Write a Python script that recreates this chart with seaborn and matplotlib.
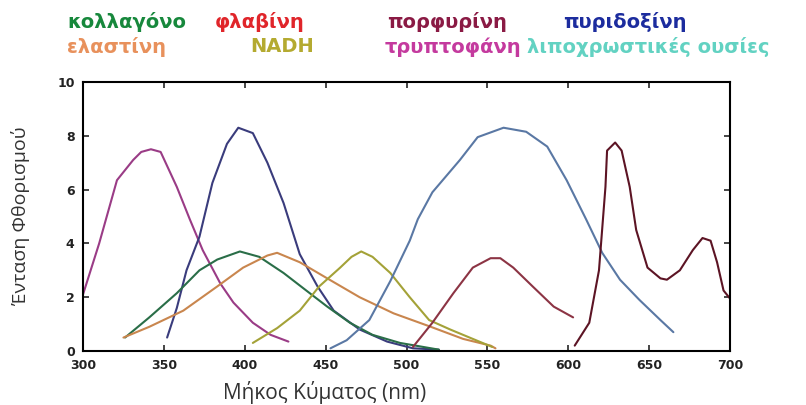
import matplotlib
matplotlib.use("Agg")
import matplotlib.pyplot as plt
import seaborn as sns
import pandas as pd

# ---- data (wavelength nm, intensity) ----
trypt_x = [300, 310, 321, 331, 336, 342, 348, 358, 366, 374, 385, 393, 405, 416, 427]
trypt_y = [2.1, 4.0, 6.35, 7.1, 7.4, 7.5, 7.4, 6.1, 4.9, 3.75, 2.5, 1.8, 1.05, 0.6, 0.35]

pyrid_x = [352, 358, 364, 372, 380, 389, 396, 405, 414, 424, 434, 445, 455, 471, 488, 504, 520]
pyrid_y = [0.5, 1.6, 3.0, 4.25, 6.25, 7.7, 8.3, 8.1, 7.0, 5.5, 3.6, 2.4, 1.5, 0.8, 0.35, 0.1, 0.05]

coll_x = [326, 341, 358, 372, 383, 397, 409, 424, 438, 451, 465, 479, 496, 520]
coll_y = [0.5, 1.25, 2.15, 3.0, 3.4, 3.7, 3.5, 2.9, 2.25, 1.65, 1.05, 0.6, 0.3, 0.05]

elast_x = [325, 341, 362, 383, 399, 414, 420, 434, 451, 471, 492, 515, 535, 552, 555]
elast_y = [0.5, 0.9, 1.5, 2.4, 3.1, 3.55, 3.65, 3.3, 2.7, 2.0, 1.4, 0.9, 0.45, 0.2, 0.1]

nadh_x = [405, 420, 434, 446, 459, 466, 472, 479, 490, 502, 514, 527, 539, 553]
nadh_y = [0.3, 0.85, 1.5, 2.4, 3.1, 3.5, 3.7, 3.5, 2.9, 2.0, 1.15, 0.8, 0.5, 0.15]

lipo_x = [453, 463, 477, 490, 502, 507, 516, 533, 544, 560, 574, 587, 599, 611, 621, 632, 644, 657, 665]
lipo_y = [0.1, 0.4, 1.15, 2.6, 4.1, 4.9, 5.9, 7.1, 7.95, 8.3, 8.15, 7.6, 6.35, 4.9, 3.65, 2.65, 1.9, 1.15, 0.7]

flav_x = [504, 516, 529, 541, 552, 558, 566, 578, 591, 603]
flav_y = [0.15, 1.05, 2.15, 3.1, 3.45, 3.45, 3.1, 2.4, 1.65, 1.25]

porph_x = [604, 613, 619, 623, 624, 629, 633, 638, 642, 649, 657, 661, 669, 677, 683, 688, 692, 696, 700]
porph_y = [0.2, 1.05, 3.0, 6.1, 7.45, 7.75, 7.45, 6.1, 4.5, 3.1, 2.7, 2.65, 3.0, 3.75, 4.2, 4.1, 3.3, 2.25, 1.95]

series = [
    ("τρυπτοφάνη", trypt_x, trypt_y, "#9a3c86"),
    ("πυριδοξίνη", pyrid_x, pyrid_y, "#3a3c7c"),
    ("κολλαγόνο", coll_x, coll_y, "#2a6e48"),
    ("ελαστίνη", elast_x, elast_y, "#c9864e"),
    ("NADH", nadh_x, nadh_y, "#a4a238"),
    ("λιποχρωστικές ουσίες", lipo_x, lipo_y, "#5a78a4"),
    ("φλαβίνη", flav_x, flav_y, "#8c3444"),
    ("πορφυρίνη", porph_x, porph_y, "#5c1424"),
]

x_ticks = [300, 350, 400, 450, 500, 550, 600, 650, 700]
y_ticks = [0, 2, 4, 6, 8, 10]

legend_rows = [
    [("κολλαγόνο", "#17883c", 67), ("φλαβίνη", "#e0252a", 215),
     ("πορφυρίνη", "#8a1a44", 387), ("πυριδοξίνη", "#1c2c9e", 563)],
    [("ελαστίνη", "#e8915c", 67), ("NADH", "#b4aa30", 250),
     ("τρυπτοφάνη", "#c43a9e", 385), ("λιποχρωστικές ουσίες", "#62d2c2", 527)],
]

sns.set_style("ticks")
plt.rcParams["font.family"] = ["DejaVu Sans"]

W, H = 806, 405
fig = plt.figure(figsize=(W / 100, H / 100), dpi=100)
ax = fig.add_axes([83 / W, 1 - 351 / H, (730 - 83) / W, (351 - 82) / H])

for name, xs, ys, col in series:
    df = pd.DataFrame({"x": xs, "y": ys})
    sns.lineplot(data=df, x="x", y="y", ax=ax, color=col, linewidth=1.5,
                 estimator=None, sort=False)

ax.set_xlim(300, 700)
ax.set_ylim(0, 10)
ax.set_xticks(x_ticks)
ax.set_yticks(y_ticks)
ax.tick_params(direction="in", length=4, width=1.2, top=True, right=True,
               labelsize=9, pad=6)
for lab in ax.get_xticklabels() + ax.get_yticklabels():
    lab.set_fontweight("bold")
    lab.set_color("#222222")
for s in ax.spines.values():
    s.set_visible(True)
    s.set_linewidth(1.5)
    s.set_color("black")

ax.set_xlabel("Μήκος Κύματος (nm)", fontsize=15, family=["Open Sans", "DejaVu Sans"], color="#333333")
ax.set_ylabel("Ένταση Φθορισμού", fontsize=14, family=["Open Sans", "DejaVu Sans"], color="#333333")
ax.xaxis.set_label_coords((325 - 83) / (730 - 83), -(381 - 351) / (351 - 82))
ax.yaxis.set_label_coords(-(83 - 30) / (730 - 83), (351 - 216) / (351 - 82))

row_y = [22, 47]
for r, row in enumerate(legend_rows):
    for txt, col, xpx in row:
        fig.text(xpx / W, 1 - row_y[r] / H, txt, color=col, fontsize=14,
                 fontweight="bold", va="center", ha="left",
                 family=["DejaVu Sans"])

fig.savefig("out.png", dpi=100, facecolor="white")
